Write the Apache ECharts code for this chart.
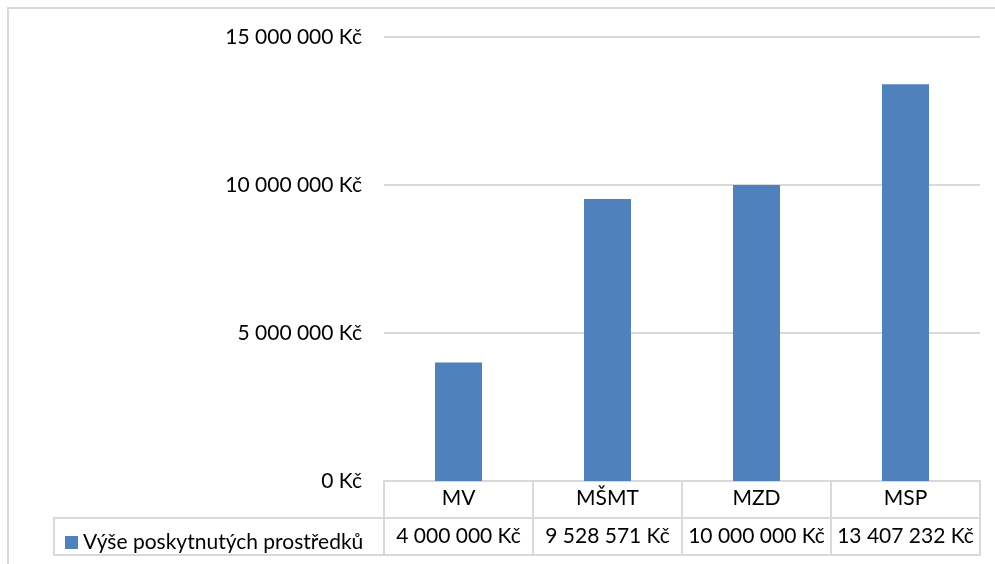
<!DOCTYPE html>
<html>
<head>
<meta charset="utf-8">
<script src="https://cdn.jsdelivr.net/npm/echarts@6/dist/echarts.min.js"></script>
<style>
  html, body { margin: 0; padding: 0; background: #fff; }
  #chart { width: 995px; height: 564px; }
</style>
</head>
<body>
<div id="chart"></div>
<script>
const categories = ["MV", "MŠMT", "MZD", "MSP"];
const amounts = [4000000, 9528571, 10000000, 13407232];
const seriesName = "Výše poskytnutých prostředků";
const yTicks = [0, 5000000, 10000000, 15000000];

const gridColor = "#d9d9d9";
const font = "Lato, 'Open Sans', sans-serif";
const fs = 21;

function kc(n) {
  return String(n).replace(/\B(?=(\d{3})+(?!\d))/g, " ") + " Kč";
}

const chart = echarts.init(document.getElementById("chart"));

const option = {
  animation: false,
  textStyle: { fontFamily: font },
  grid: { left: 384, right: 15, top: 37, bottom: 83 },
  legend: {
    left: 60,
    top: 527,
    icon: "rect",
    itemWidth: 13,
    itemHeight: 13,
    itemGap: 6,
    textStyle: { fontSize: fs, color: "#000", fontFamily: font },
    data: [seriesName]
  },
  xAxis: [
    {
      type: "category",
      data: categories,
      position: "bottom",
      axisLine: { lineStyle: { color: gridColor, width: 2 } },
      axisTick: { show: true, length: 37, lineStyle: { color: gridColor, width: 2 } },
      axisLabel: { fontSize: fs, color: "#000", margin: 7, interval: 0, fontFamily: font }
    },
    {
      type: "category",
      data: categories,
      position: "bottom",
      offset: 37,
      axisLine: { lineStyle: { color: gridColor, width: 2 } },
      axisTick: { show: true, length: 37, lineStyle: { color: gridColor, width: 2 } },
      axisLabel: {
        fontSize: fs, color: "#000", margin: 8, interval: 0, hideOverlap: false,
        fontFamily: font,
        formatter: (v, i) => kc(amounts[i])
      }
    }
  ],
  yAxis: {
    type: "value",
    min: yTicks[0],
    max: yTicks[yTicks.length - 1],
    interval: yTicks[1] - yTicks[0],
    axisLine: { show: false },
    axisTick: { show: false },
    splitLine: { lineStyle: { color: gridColor, width: 2 } },
    axisLabel: { fontSize: fs, color: "#000", margin: 22, fontFamily: font, formatter: kc }
  },
  series: [
    {
      name: seriesName,
      type: "bar",
      xAxisIndex: 0,
      data: amounts,
      barWidth: 47,
      itemStyle: { color: "#4f81bd" }
    }
  ],
  graphic: [
    // outer chart frame
    { type: "rect", shape: { x: 8, y: 8, width: 1000, height: 600 },
      style: { fill: "none", stroke: gridColor, lineWidth: 2 }, silent: true },
    // data table: legend cell and bottom edge
    { type: "rect", shape: { x: 54, y: 518, width: 926, height: 37 },
      style: { fill: "none", stroke: gridColor, lineWidth: 2 }, silent: true }
  ]
};

chart.setOption(option);
</script>
</body>
</html>
